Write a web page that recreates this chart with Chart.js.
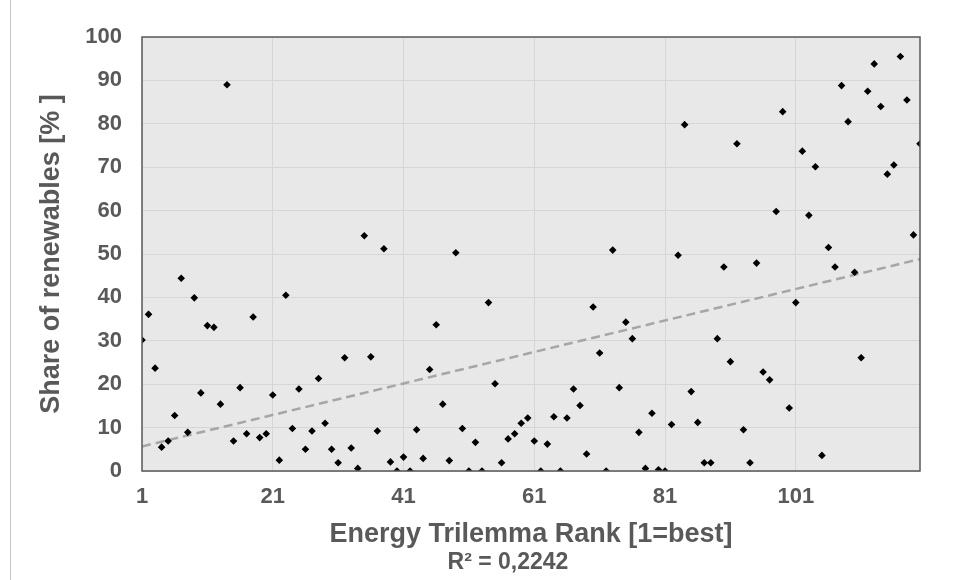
<!DOCTYPE html>
<html>
<head>
<meta charset="utf-8">
<script src="https://cdn.jsdelivr.net/npm/chart.js@4.4.1/dist/chart.umd.min.js"></script>
<style>
    html, body { margin: 0; padding: 0; background: #ffffff; }
    #wrap { width: 954px; height: 580px; position: relative; }
</style>
</head>
<body>
<div id="wrap"><canvas id="rankChart" width="954" height="580"></canvas></div>
<script>
// --- Data ---
const renewableShare = [
    30.2, 36.1, 23.7, 5.5, 6.9, 12.8, 44.4, 8.9, 39.9, 18.0,
    33.5, 33.1, 15.4, 89.0, 6.9, 19.2, 8.6, 35.5, 7.7, 8.6,
    17.5, 2.5, 40.5, 9.8, 18.9, 5.0, 9.2, 21.3, 11.0, 5.0,
    1.9, 26.1, 5.3, 0.6, 54.2, 26.3, 9.2, 51.2, 2.1, 0,
    3.2, 0, 9.5, 2.9, 23.4, 33.7, 15.4, 2.4, 50.3, 9.8,
    0, 6.6, 0, 38.8, 20.1, 1.9, 7.4, 8.6, 11.0, 12.2,
    6.9, 0, 6.2, 12.5, 0, 12.2, 18.9, 15.1, 3.9, 37.8,
    27.2, 0, 50.9, 19.2, 34.3, 30.5, 8.9, 0.6, 13.3, 0.3,
    0, 10.7, 49.7, 79.8, 18.3, 11.2, 1.9, 1.9, 30.5, 47.0,
    25.2, 75.4, 9.5, 1.9, 47.9, 22.8, 21.0, 59.8, 82.8, 14.5,
    38.8, 73.7, 58.9, 70.1, 3.6, 51.5, 47.0, 88.8, 80.5, 45.8,
    26.1, 87.5, 93.8, 84.0, 68.4, 70.5, 95.5, 85.5, 54.4, 75.4
];
// rank of each country, 1 = best
const trilemmaRank = renewableShare.map((v, i) => i + 1);
const xTicks = [1, 21, 41, 61, 81, 101];
const xRange = [1, 120];
const yRange = [0, 100];
const r2Label = 'R\u00b2 = 0,2242';

const TEXT_GREY = '#595959';
const FONT = "'Liberation Sans', Arial, sans-serif";

// least squares line through the points
const n = trilemmaRank.length;
const mx = trilemmaRank.reduce((a, b) => a + b, 0) / n;
const my = renewableShare.reduce((a, b) => a + b, 0) / n;
let sxy = 0, sxx = 0;
trilemmaRank.forEach((x, i) => {
    sxy += (x - mx) * (renewableShare[i] - my);
    sxx += (x - mx) * (x - mx);
});
const slope = sxy / sxx;
const intercept = my - slope * mx;
const trendPoints = xRange.map(x => ({ x: x, y: intercept + slope * x }));

// --- Plot frame: grey fill behind, dark box around, R² text ---
const framePlugin = {
    id: 'frame',
    beforeDraw(chart) {
        const { ctx, chartArea: a } = chart;
        ctx.save();
        ctx.fillStyle = '#e8e8e8';
        ctx.fillRect(a.left, a.top, a.right - a.left, a.bottom - a.top);
        // thin line at the far left of the picture
        ctx.strokeStyle = '#c8c8c8';
        ctx.lineWidth = 1;
        ctx.beginPath();
        ctx.moveTo(10.5, 0);
        ctx.lineTo(10.5, chart.height);
        ctx.stroke();
        ctx.restore();
    },
    afterDatasetsDraw(chart) {
        const { ctx, chartArea: a } = chart;
        ctx.save();
        ctx.strokeStyle = TEXT_GREY;
        ctx.lineWidth = 1.5;
        ctx.strokeRect(a.left, a.top, a.right - a.left, a.bottom - a.top);
        ctx.restore();
    },
    afterDraw(chart) {
        const { ctx } = chart;
        ctx.save();
        ctx.fillStyle = TEXT_GREY;
        ctx.font = 'bold 23px ' + FONT;
        ctx.textAlign = 'center';
        ctx.textBaseline = 'middle';
        ctx.fillText(r2Label, 508, 563);
        ctx.restore();
    }
};

new Chart(document.getElementById('rankChart'), {
    type: 'scatter',
    data: {
        datasets: [{
            label: 'Share of renewables',
            data: trilemmaRank.map((x, i) => ({ x: x, y: renewableShare[i] })),
            backgroundColor: '#000000',
            borderWidth: 0,
            pointStyle: 'rectRot',
            pointRadius: 3.8,
            order: 1
        }, {
            type: 'line',
            label: 'Linear trend',
            data: trendPoints,
            borderColor: '#a6a6a6',
            borderWidth: 2.5,
            borderDash: [9, 5],
            pointRadius: 0,
            fill: false,
            order: 2
        }]
    },
    options: {
        responsive: false,
        animation: false,
        layout: { padding: { left: 0, top: 37, right: 34, bottom: 29 } },
        plugins: {
            legend: { display: false },
            tooltip: { enabled: false }
        },
        scales: {
            x: {
                type: 'linear',
                min: xRange[0],
                max: xRange[1],
                afterBuildTicks: scale => { scale.ticks = xTicks.map(v => ({ value: v })); },
                afterFit: scale => { scale.height = 80; },
                grid: { color: '#d6d6d6', drawTicks: false },
                border: { display: false },
                ticks: {
                    color: TEXT_GREY,
                    padding: 13,
                    maxRotation: 0,
                    font: { family: FONT, size: 22, weight: 'bold' }
                },
                title: {
                    display: true,
                    text: 'Energy Trilemma Rank [1=best]',
                    color: TEXT_GREY,
                    padding: { top: 0, bottom: 0 },
                    font: { family: FONT, size: 27, weight: 'bold' }
                }
            },
            y: {
                min: yRange[0],
                max: yRange[1],
                afterFit: scale => { scale.width = 142; },
                grid: { color: '#d6d6d6', drawTicks: false },
                border: { display: false },
                ticks: {
                    stepSize: 10,
                    color: TEXT_GREY,
                    padding: 20,
                    font: { family: FONT, size: 22, weight: 'bold' }
                },
                title: {
                    display: true,
                    text: 'Share of renewables [% ]',
                    color: TEXT_GREY,
                    padding: { top: 35, bottom: 0 },
                    font: { family: FONT, size: 27, weight: 'bold' }
                }
            }
        }
    },
    plugins: [framePlugin]
});
</script>
</body>
</html>
